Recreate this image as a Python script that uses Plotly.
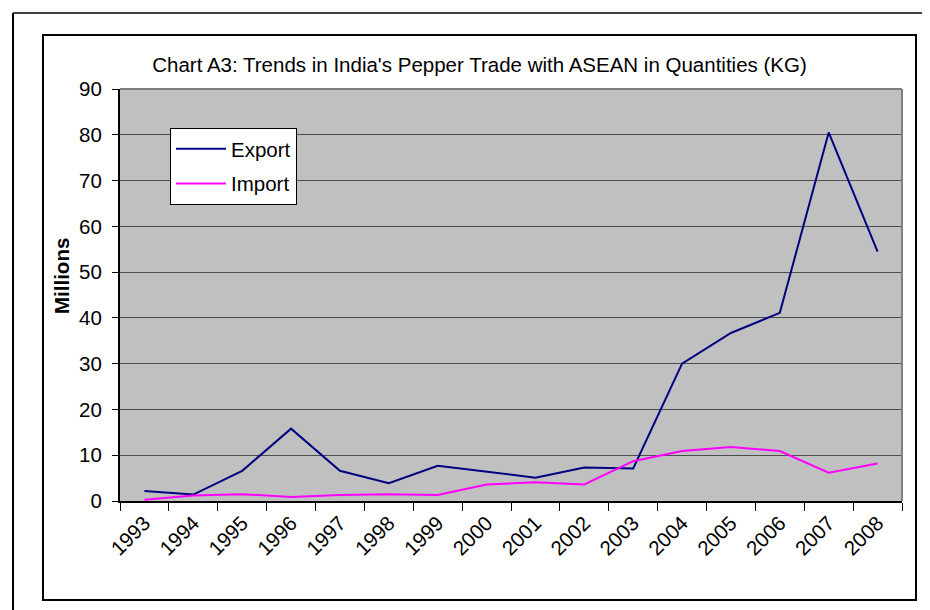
import plotly.graph_objects as go

years = ["1993", "1994", "1995", "1996", "1997", "1998", "1999", "2000",
         "2001", "2002", "2003", "2004", "2005", "2006", "2007", "2008"]
export_vals = [2.2, 1.4, 6.6, 15.8, 6.6, 3.9, 7.7, 6.4, 5.1, 7.3, 7.1, 30.0, 36.7, 41.1, 80.5, 54.5]
import_vals = [0.3, 1.2, 1.5, 0.9, 1.3, 1.5, 1.3, 3.6, 4.1, 3.6, 8.7, 10.9, 11.8, 10.9, 6.2, 8.2]

W, H = 930, 610
L, R, T, B = 112, 894, 81, 493  # plot area in pixels

def px(x):
    return (x - L) / (R - L)

def py(y):
    return (B - y) / (B - T)

font_family = "Arial, Liberation Sans, sans-serif"
FS = 20.5

fig = go.Figure()
fig.add_trace(go.Scatter(x=years, y=export_vals, mode="lines", name="Export",
                         legendgroup="e", line=dict(color="#000080", width=2)))
fig.add_trace(go.Scatter(x=years, y=import_vals, mode="lines", name="Import",
                         legendgroup="i", line=dict(color="#FF00FF", width=2)))

fig.update_layout(
    width=W, height=H,
    margin=dict(l=L, r=W - R, t=T, b=H - B),
    paper_bgcolor="white",
    plot_bgcolor="#C0C0C0",
    font=dict(family=font_family, color="black", size=FS),
    title=dict(text="Chart A3: Trends in India's Pepper Trade with ASEAN in Quantities (KG)",
               x=px(471.5), xref="paper", xanchor="center", y=1 - 57 / H, yanchor="middle",
               font=dict(size=FS, family=font_family)),
    legend=dict(x=px(162), y=py(120), xanchor="left", yanchor="top",
                bgcolor="white", bordercolor="black", borderwidth=1,
                font=dict(size=FS), tracegroupgap=5, itemwidth=50),
    showlegend=True,
)

fig.update_xaxes(
    type="category", tickson="boundaries", ticks="outside", ticklen=8,
    tickcolor="black", tickwidth=1, tickangle=-45,
    showline=True, linecolor="black", linewidth=2, showgrid=False,
    tickfont=dict(size=FS), range=[-0.5, 15.5],
)
fig.update_yaxes(
    range=[0, 90], dtick=10, ticks="outside", ticklen=6, tickcolor="black",
    showline=True, linecolor="black", linewidth=2,
    showgrid=True, gridcolor="#4d4d4d", gridwidth=1, zeroline=False,
    tickfont=dict(size=FS), ticklabelstandoff=6,
)

fig.add_annotation(text="<b>Millions</b>", xref="paper", yref="paper",
                   x=px(53), y=py(268), xanchor="center", yanchor="middle",
                   textangle=-90, showarrow=False, font=dict(size=FS))

shapes = [
    # plot area border (top/right gray)
    dict(type="line", xref="paper", yref="paper", x0=0, x1=1, y0=1, y1=1,
         line=dict(color="#808080", width=2)),
    dict(type="line", xref="paper", yref="paper", x0=1, x1=1, y0=0, y1=1,
         line=dict(color="#808080", width=2)),
    # inner chart border
    dict(type="rect", xref="paper", yref="paper", x0=px(35), x1=px(908), y0=py(592), y1=py(27),
         line=dict(color="black", width=2), layer="below"),
    # outer page border (top and left)
    dict(type="line", xref="paper", yref="paper", x0=px(5), x1=px(932), y0=py(5), y1=py(5),
         line=dict(color="#404040", width=2)),
    dict(type="line", xref="paper", yref="paper", x0=px(5), x1=px(5), y0=py(5), y1=py(612),
         line=dict(color="black", width=2)),
]
fig.update_layout(shapes=shapes)

fig.write_html("out.html")
